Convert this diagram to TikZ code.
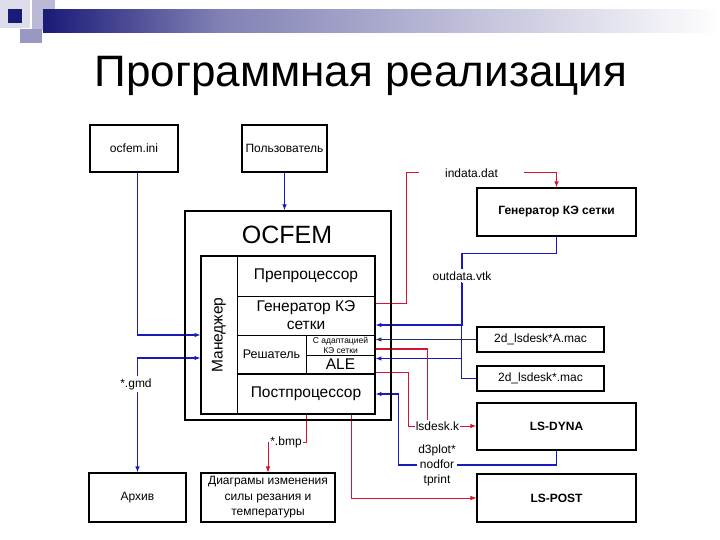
\documentclass[tikz,border=0pt]{standalone}
\usepackage{fontspec}
\setmainfont{Liberation Sans}
\usepackage{graphicx}
\usetikzlibrary{arrows.meta,positioning,calc}
\definecolor{OC-NAVY}{RGB}{26,26,120}
\definecolor{OC-BLUE}{RGB}{25,25,190}
\definecolor{OC-RED}{RGB}{215,20,45}
\definecolor{OC-DARK}{RGB}{45,45,95}
\pgfdeclarelayer{background}
\pgfsetlayers{background,main}
\tikzset{
  box/.style={draw, line width=1.1pt, fill=white, inner sep=0pt, align=center,
    font=\fontsize{12}{15.5}\selectfont},
  boldbox/.style={box, font=\fontsize{12}{15.5}\selectfont\bfseries},
  frame/.style={draw, line width=1.1pt, inner sep=0pt},
  cell/.style={draw, line width=0.9pt, inner sep=0pt, align=center,
    font=\fontsize{15.5}{18}\selectfont},
  filelabel/.style={fill=white, inner sep=2pt, align=center,
    font=\fontsize{12}{15}\selectfont},
  bluelink/.style={OC-BLUE, line width=1.1pt, ->},
  darklink/.style={OC-DARK, line width=0.8pt, ->},
  redlink/.style={OC-RED, line width=1pt},
}

\begin{document}
\begin{tikzpicture}[x=1pt, y=-1pt, >={Latex[length=6pt,width=4.5pt]}]
  \useasboundingbox (0,0) rectangle (720,540);

  % Header squares and bar
  \fill[OC-NAVY!15] (0,0) rectangle (30,28);
  \fill[OC-NAVY!30] (32,0) rectangle (55,30);
  \fill[OC-NAVY!45] (20,29) rectangle (42,43);
  \fill[OC-NAVY] (8,9) rectangle (22,23);
  \shade[left color=OC-NAVY, right color=OC-NAVY!55!white] (43,10) rectangle (220,33);
  \shade[left color=OC-NAVY!55!white, right color=white] (220,10) rectangle (720,33);

  % Title
  \node[font=\fontsize{44}{44}\selectfont] (title) at (361,76) {Программная реализация};

  % Inputs on top
  \node[box, minimum width=88pt, minimum height=47pt] (ini) at (134,148.5) {ocfem.ini};
  \node[box, minimum width=85pt, minimum height=47pt] (user) at (284.5,148.5) {Пользователь};

  % OCFEM with its modules
  \node[frame, minimum width=206pt, minimum height=209pt] (ocfem) at (288,315.5) {};
  \node[font=\fontsize{25}{25}\selectfont] (ocfemname) at (287,235) {OCFEM};
  \node[frame, minimum width=174pt, minimum height=158pt] (inner) at (288,335) {};
  \node[cell, minimum width=36pt, minimum height=158pt] (manager) at (219,335)
    {\rotatebox{90}{Манеджер}};
  \node[cell, minimum width=138pt, minimum height=40pt] (pre) at (306,276) {Препроцессор};
  \node[cell, minimum width=138pt, minimum height=39pt] (gen) at (306,315.5)
    {Генератор КЭ\\сетки};
  \node[cell, minimum width=69pt, minimum height=39pt, font=\fontsize{12.5}{15}\selectfont]
    (solver) at (271.5,354.5) {Решатель};
  \node[cell, minimum width=69pt, minimum height=20pt, font=\fontsize{8.5}{10}\selectfont]
    (adapt) at (340.5,345) {С адаптацией\\КЭ сетки};
  \node[cell, minimum width=69pt, minimum height=19pt] (ale) at (340.5,364.5) {ALE};
  \node[cell, minimum width=138pt, minimum height=40pt] (post) at (306,394) {Постпроцессор};
  \draw[line width=1.4pt] (gen.south west) -- (gen.south east);
  \draw[line width=1.4pt] (post.north west) -- (post.north east);

  % Outer programs and files
  \node[boldbox, minimum width=159pt, minimum height=48pt] (meshgen) at (556.5,212) {Генератор КЭ сетки};
  \node[box, minimum width=127pt, minimum height=25pt] (macA) at (540.5,339.5) {2d\_lsdesk*A.mac};
  \node[box, minimum width=127pt, minimum height=25pt] (mac) at (540.5,378.5) {2d\_lsdesk*.mac};
  \node[boldbox, minimum width=159pt, minimum height=47pt] (dyna) at (556.5,426.5) {LS-DYNA};
  \node[boldbox, minimum width=159pt, minimum height=48pt] (lspost) at (556.5,498) {LS-POST};
  \node[box, minimum width=97pt, minimum height=49pt] (archive) at (137.5,497.5) {Архив};
  \node[box, minimum width=134pt, minimum height=49pt] (diag) at (268,497.5)
    {Диаграмы изменения\\силы резания и\\температуры};

  % File labels
  \node[filelabel, inner xsep=26pt] (indata) at (471.5,173) {indata.dat};
  \node[filelabel] (outdata) at (462,276) {outdata.vtk};
  \node[filelabel] (gmd) at (136,384) {*.gmd};
  \node[filelabel, inner sep=1pt] (lsdesk) at (437.5,426) {lsdesk.k};
  \node[filelabel, inner sep=1pt] (d3) at (437,465) {d3plot*\\nodfor\\tprint};
  \node[filelabel, inner sep=1pt] (bmp) at (286,442) {*.bmp};

  \begin{pgfonlayer}{background}
    % Blue links
    \draw[bluelink] (ini.south -| archive) |- (manager.west);
    \draw[bluelink, <->] (archive.north) |- ([yshift=-23pt]manager.west);
    \draw[bluelink] (user) -- (user |- ocfem.north);
    \draw[bluelink] (meshgen.south) |- ([yshift=-17pt]meshgen.south -| outdata)
      -- (outdata) |- ([yshift=-9.5pt]gen.east);
    \draw[darklink] (macA.west) -- (macA.west -| adapt.east);
    \draw[bluelink] (mac.west) -| ([xshift=-15pt]mac.west |- outdata)
      |- ([yshift=6pt]ale.east);
    \draw[bluelink] (dyna.south) |- (d3) -| ([xshift=23pt]post.east) -- (post.east);
    % Red links
    \draw[redlink, ->] ([yshift=12.5pt]gen.east) -| ([xshift=31pt]gen.east |- indata)
      -- (indata) -| (meshgen.north);
    \draw[redlink, line width=1.3pt] ([yshift=-4pt]adapt.east) -| ([xshift=-10pt]lsdesk.north);
    \draw[redlink, line width=0.7pt] ([yshift=-7.5pt]ale.east) -| ([xshift=-6pt]lsdesk.west)
      -- (lsdesk.west);
    \draw[redlink, ->] (lsdesk.east) -- (lsdesk.east -| dyna.west);
    \draw[redlink, ->, line width=0.7pt] (post.south) |- (bmp) -| (diag.north);
    \draw[redlink, ->, line width=0.7pt] ([xshift=45pt]post.south) |- (lspost.west);
  \end{pgfonlayer}
\end{tikzpicture}
\end{document}
